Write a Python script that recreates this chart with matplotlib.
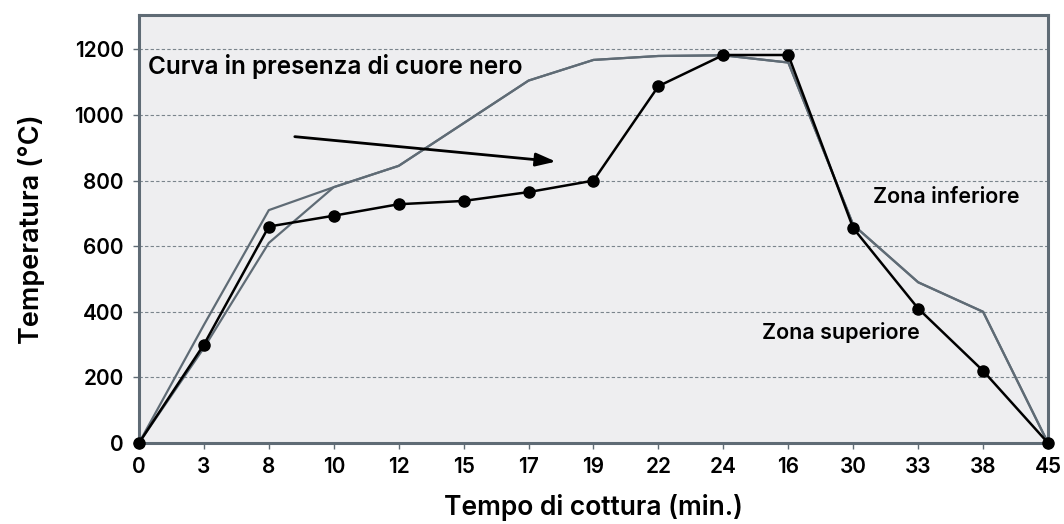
import matplotlib.pyplot as plt

# data
times = ['0', '3', '8', '10', '12', '15', '17', '19', '22', '24', '16', '30', '33', '38', '45']
zona_superiore = [0, 300, 660, 693, 728, 738, 765, 800, 1088, 1183, 1183, 655, 410, 220, 0]
curva_alta = [0, 360, 710, 780, 845, 975, 1105, 1168, 1180, 1182, 1160, 665, 490, 400, 0]
curva_bassa = [0, 290, 610, 780, 845, 975, 1105, 1168, 1180, 1182, 1160, 665, 490, 400, 0]
y_ticks = [0, 200, 400, 600, 800, 1000, 1200]

plt.rcParams['font.family'] = ['Inter', 'DejaVu Sans']
plt.rcParams['font.weight'] = 'semibold'
plt.rcParams['axes.labelweight'] = 'semibold'
spine_col = '#5f6b75'

fig = plt.figure(figsize=(10.64, 5.24), dpi=100)
ax = fig.add_axes([0.1306, 0.1546, 0.8544, 0.8168])
ax.set_facecolor('#eeeef0')

x = range(len(times))
ax.plot(x, curva_bassa, color=spine_col, lw=1.6, zorder=3)
ax.plot(x, curva_alta, color=spine_col, lw=1.6, zorder=3)
ax.plot(x, zona_superiore, color='black', lw=1.8, marker='o', markersize=8,
        clip_on=False, zorder=5)

# limits / ticks
ax.set_xlim(0, len(times) - 1)
ax.set_ylim(0, 1305)
ax.set_xticks(list(x))
ax.set_xticklabels(times)
ax.set_yticks(y_ticks)
ax.tick_params(axis='both', labelsize=15, colors=spine_col, labelcolor='black',
               length=4, width=1)
ax.tick_params(axis='x', pad=6)
ax.tick_params(axis='y', length=4, pad=7)
ax.yaxis.grid(True, linestyle=(0, (3, 2)), color='#7a848c', lw=0.8)
ax.set_axisbelow(True)
for s in ax.spines.values():
    s.set_color(spine_col)
    s.set_linewidth(2.2)

# labels
ax.set_xlabel('Tempo di cottura (min.)', fontsize=19, labelpad=12)
ax.set_ylabel('Temperatura (°C)', fontsize=19.5, labelpad=21)

# annotations
ax.text(0.14, 1148, 'Curva in presenza di cuore nero', fontsize=17.5, va='center', ha='left')
ax.text(12.43, 751, 'Zona inferiore', fontsize=15.5, va='center', ha='center')
ax.text(10.81, 336, 'Zona superiore', fontsize=15.5, va='center', ha='center')
ax.annotate('', xy=(6.42, 858), xytext=(2.4, 934),
            arrowprops=dict(arrowstyle='-|>,head_length=1.2,head_width=0.4',
                            color='black', lw=2, shrinkA=0, shrinkB=0))

plt.savefig('out.png', dpi=100)
